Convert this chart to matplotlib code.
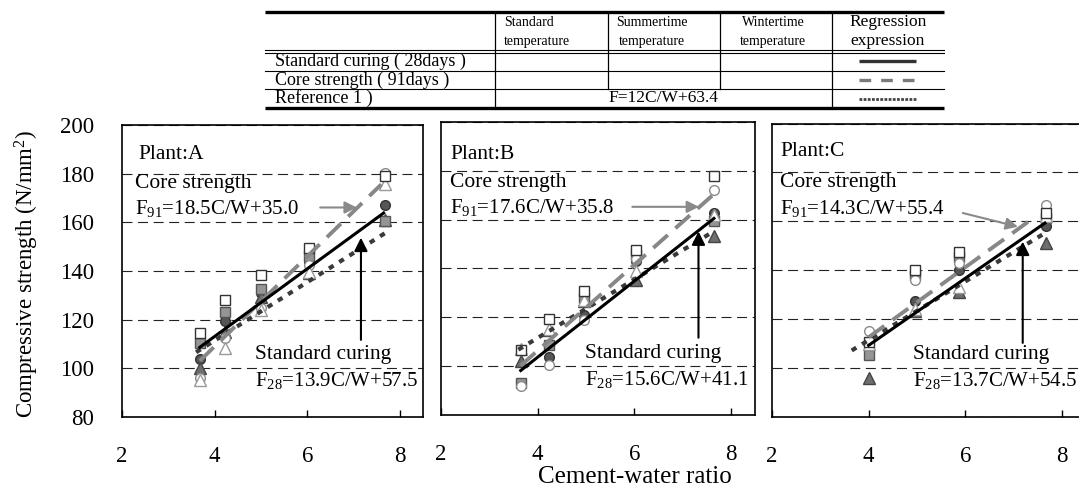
import numpy as np
import matplotlib.pyplot as plt

plt.rcParams['font.family'] = 'Liberation Serif'
plt.rcParams['mathtext.fontset'] = 'custom'
plt.rcParams['mathtext.rm'] = 'Liberation Serif'
plt.rcParams['mathtext.it'] = 'Liberation Serif:italic'

# Cement-water ratio of the mixes at each plant
cw_A = [3.68, 4.23, 5.00, 6.03, 7.68]
cw_B = [3.65, 4.23, 4.97, 6.04, 7.65]
cw_C = [4.00, 4.97, 5.87, 7.67]

# Compressive strength (N/mm2): standard curing 28 days (std_*) and core 91 days (core_*)
# for standard / summertime / wintertime temperature
std_std_A = [103.8, 119.6, 131.0, 143.9, 167.2]
std_sum_A = [100.3, 115.1, 129.5, 139.1, 161.0]
std_win_A = [110.4, 123.3, 132.5, 146.0, 160.4]
core_std_A = [96.0, 112.4, 124.8, 142.5, 180.2]
core_sum_A = [95.2, 108.3, 124.0, 139.5, 175.9]
core_win_A = [114.7, 128.1, 138.4, 149.4, 178.9]

std_std_B = [92.5, 103.4, 120.9, 143.0, 162.6]
std_sum_B = [102.0, 114.8, 126.4, 135.3, 153.3]
std_win_B = [93.0, 108.6, 127.8, 145.5, 159.2]
core_std_B = [91.5, 100.4, 118.9, 143.9, 171.9]
core_sum_B = [107.0, 115.0, 127.0, 138.7, 162.0]
core_win_B = [106.6, 119.2, 130.5, 147.3, 178.0]

std_std_C = [108.8, 127.4, 140.1, 158.2]
std_sum_C = [95.8, 123.5, 131.2, 151.0]
std_win_C = [105.4, 138.1, 145.6, 161.3]
core_std_C = [115.2, 136.0, 142.9, 166.7]
core_sum_C = [110.0, 124.0, 133.3, 162.0]
core_win_C = [110.5, 140.2, 147.6, 163.3]

# Regression expressions F = a*C/W + b
plants = ['A', 'B', 'C']
std_slope = [13.9, 15.6, 13.7]
std_icpt = [57.5, 41.1, 54.5]
core_slope = [18.5, 17.6, 14.3]
core_icpt = [35.0, 35.8, 55.4]
ref_slope, ref_icpt = 12.0, 63.4

# C/W range covered by each regression line
std_range = [(3.68, 7.65), (3.65, 7.65), (4.00, 7.65)]
core_range = [(3.68, 7.60), (3.65, 7.70), (4.00, 7.35)]
ref_range = [(3.60, 7.70), (3.60, 7.60), (3.65, 7.60)]

cw_all = [cw_A, cw_B, cw_C]
data_all = [
    [std_std_A, std_sum_A, std_win_A, core_std_A, core_sum_A, core_win_A],
    [std_std_B, std_sum_B, std_win_B, core_std_B, core_sum_B, core_win_B],
    [std_std_C, std_sum_C, std_win_C, core_std_C, core_sum_C, core_win_C],
]

marker_styles = [
    dict(marker='o', mfc='#555555', mec='#333333', ms=7),
    dict(marker='^', mfc='#6e6e6e', mec='#444444', ms=8),
    dict(marker='s', mfc='#959595', mec='#555555', ms=6.5),
    dict(marker='o', mfc='white', mec='#8a8a8a', ms=7),
    dict(marker='^', mfc='white', mec='#9a9a9a', ms=8),
    dict(marker='s', mfc='white', mec='#333333', ms=6.5),
]

# Panel positions in pixels (left, top, right, bottom)
W, H = 1079, 488
boxes = [(122, 125, 423, 417), (441, 122, 755, 414.5), (772, 123.5, 1086, 417)]

# Annotation anchors (data coords): plant label, core text, core arrow, std text, std arrow
core_txt = [(2.29, 175.9), (2.19, 175.1), (2.17, 175.7)]
core_arrow = [((6.28, 166.1), (7.07, 166.1)), ((5.96, 165.2), (7.34, 165.2)),
              ((5.95, 163.4), (7.09, 157.8))]
std_txt = [(4.88, 105.5), (4.98, 104.9), (4.92, 105.4)]
std_arrow = [((7.16, 111.7), (7.16, 153.7)), ((7.33, 111.5), (7.33, 155.1)),
             ((7.19, 110.3), (7.19, 151.7))]
plant_txt = [(2.36, 187.8), (2.19, 186.6), (2.17, 188.4)]

fig = plt.figure(figsize=(W / 100, H / 100), dpi=100)

# Legend table drawn in pixel coordinates
tab = fig.add_axes([0, 0, 1, 1])
tab.set_xlim(0, W)
tab.set_ylim(H, 0)
tab.axis('off')
tx0, tx1 = 265, 944
cols = [495, 608, 720, 832]
tab.plot([tx0, tx1], [12, 12], color='black', lw=2.4, solid_capstyle='butt')
tab.plot([tx0, tx1], [108, 108], color='black', lw=2.4, solid_capstyle='butt')
for yy in [49.5, 52.5, 70.5, 89]:
    tab.plot([tx0, tx1], [yy, yy], color='black', lw=0.8)
for xx in cols:
    yb = 108 if xx in (495, 832) else 89
    tab.plot([xx, xx], [12, yb], color='black', lw=0.9)
tab.text(504, 23, 'Standard', fontsize=10, ha='left', va='center')
tab.text(504, 42, 'temperature', fontsize=10, ha='left', va='center')
tab.text(652, 23, 'Summertime', fontsize=10, ha='center', va='center')
tab.text(652, 42, 'temperature', fontsize=10, ha='center', va='center')
tab.text(773, 23, 'Wintertime', fontsize=10, ha='center', va='center')
tab.text(773, 42, 'temperature', fontsize=10, ha='center', va='center')
tab.text(888, 22, 'Regression', fontsize=12.5, ha='center', va='center')
tab.text(888, 41, 'expression', fontsize=12.5, ha='center', va='center')
tab.text(275, 61, 'Standard curing ( 28days )', fontsize=13, ha='left', va='center')
tab.text(275, 80, 'Core strength ( 91days )', fontsize=13, ha='left', va='center')
tab.text(275, 98.5, 'Reference 1 )', fontsize=13, ha='left', va='center')
tab.text(663, 98.5, f'F={ref_slope:g}C/W+{ref_icpt}', fontsize=12.5, ha='center', va='center')
tab.plot([859, 916], [61, 61], color='#333333', lw=2.4, solid_capstyle='butt')
tab.plot([859, 916], [80, 80], color='#7a7a7a', lw=2.4, dashes=(3.5, 3.0))
tab.plot([859, 916], [99, 99], color='#444444', lw=2.0, dashes=(1.0, 0.5))

for i, p in enumerate(plants):
    l, t, r, b = boxes[i]
    ax = fig.add_axes([l / W, (H - b) / H, (r - l) / W, (b - t) / H])
    ax.set_xlim(2, 8.5)
    ax.set_ylim(80, 200)
    ax.set_xticks([2, 4, 6, 8])
    ax.set_yticks(range(80, 201, 20))
    ax.grid(axis='y', color='#222222', lw=0.8, dashes=(9, 5))
    ax.set_axisbelow(True)
    for sp in ax.spines.values():
        sp.set_linewidth(1.2)
    ax.tick_params(axis='x', direction='in', length=5, width=1, pad=21, labelsize=16.5)
    ax.tick_params(axis='y', length=0, pad=20, labelsize=16.5, labelleft=(i == 0))

    cw = cw_all[i]
    for vals, st in zip(data_all[i], marker_styles):
        ax.plot(cw, vals, ls='none', mew=1.0, zorder=3, **st)

    x = np.array(ref_range[i])
    ax.plot(x, ref_slope * x + ref_icpt, color='#3a3a3a', lw=3.0,
            dashes=(1.3, 1.6), zorder=4)
    x = np.array(core_range[i])
    ax.plot(x, core_slope[i] * x + core_icpt[i], color='#878787', lw=2.8,
            dashes=(5, 2.6), zorder=5)
    x = np.array(std_range[i])
    ax.plot(x, std_slope[i] * x + std_icpt[i], color='black', lw=2.2, zorder=6)

    ax.text(*plant_txt[i], f'Plant:{p}', fontsize=15.5, va='center')
    cx, cy = core_txt[i]
    ax.text(cx, cy, 'Core strength', fontsize=15.5, va='center')
    ax.text(cx, cy - 10.3, r'F$_{\mathrm{91}}$' + f'={core_slope[i]}C/W+{core_icpt[i]}',
            fontsize=15, va='center', clip_on=False)
    sx, sy = std_txt[i]
    ax.text(sx, sy, 'Standard curing', fontsize=15.5, va='center', clip_on=False)
    ax.text(sx, sy - 10.6, r'F$_{\mathrm{28}}$' + f'={std_slope[i]}C/W+{std_icpt[i]}',
            fontsize=15, va='center', clip_on=False)

    ax.annotate('', xy=core_arrow[i][1], xytext=core_arrow[i][0],
                arrowprops=dict(arrowstyle='-|>', color='#8a8a8a', lw=1.5,
                                mutation_scale=18, shrinkA=0, shrinkB=0), zorder=7)
    ax.annotate('', xy=std_arrow[i][1], xytext=std_arrow[i][0],
                arrowprops=dict(arrowstyle='-|>', color='black', lw=1.5,
                                mutation_scale=20, shrinkA=0, shrinkB=0), zorder=7)

fig.text(27 / W, (H - 274) / H, 'Compressive strength (N/mm$^2$)', rotation=90,
         fontsize=16.5, ha='center', va='center')
fig.text(635 / W, (H - 477) / H, 'Cement-water ratio', fontsize=18,
         ha='center', va='center')

fig.savefig('out.png', dpi=100)
